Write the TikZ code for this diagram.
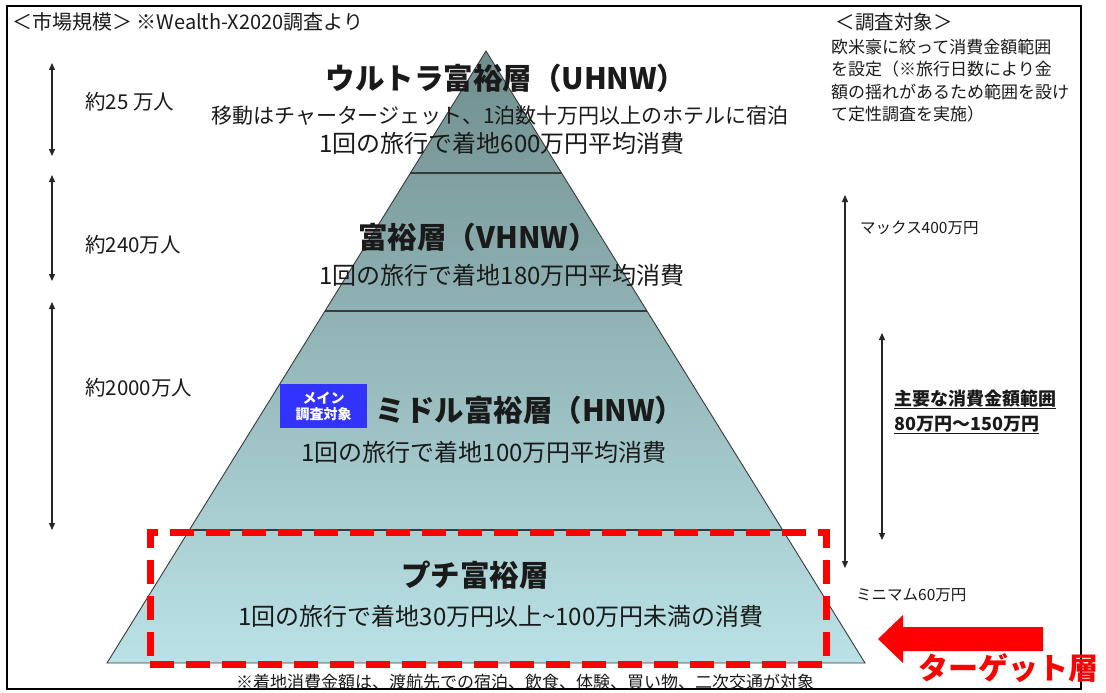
\documentclass[tikz,border=0pt]{standalone}
\usepackage{fontspec}
\setmainfont{Noto Sans CJK JP}
\usetikzlibrary{arrows.meta}
\definecolor{pyrtop}{HTML}{708E8E}
\definecolor{pyrbot}{HTML}{BAE2E6}
\definecolor{pyrline}{HTML}{3A3A3A}
\definecolor{txt}{HTML}{1A1A1A}
\definecolor{mainblue}{HTML}{3333FF}
\newcommand{\fs}[1]{\fontsize{#1}{#1}\selectfont}
\tikzset{
  lbl/.style={inner sep=0pt, text=txt},
  ttl/.style={lbl, font=\fs{29.5}\bfseries},
  sub/.style={lbl, font=\fs{24}},
  side/.style={lbl, font=\fs{20.5}, anchor=west},
  rside/.style={lbl, font=\fs{15.5}, anchor=west},
  dimarrow/.style={line width=1.3pt, draw=black!85, {Triangle[length=7pt,width=6pt]}-{Triangle[length=7pt,width=6pt]}},
  divider/.style={line width=1.2pt, draw=pyrline},
}
\begin{document}
\begin{tikzpicture}[x=1pt,y=-1pt]
\useasboundingbox (0,0) rectangle (1106,693);
\fill[white] (0,0) rectangle (1106,693);
% frame
\node[draw=black, line width=1.6pt, minimum width=1074pt, minimum height=683pt, inner sep=0pt] (frame) at (544,347.5) {};

% pyramid
\coordinate (apex) at (486,51);
\coordinate (bl) at (107,663);
\coordinate (br) at (865,663);
\shadedraw[top color=pyrtop, bottom color=pyrbot, draw=pyrline, line width=0.9pt] (apex) -- (br) -- (bl) -- cycle;
\coordinate (d1l) at (410.4,173); \coordinate (d1r) at (561.6,173);
\coordinate (d2l) at (325,311);   \coordinate (d2r) at (647,311);
\coordinate (d3l) at (189.4,530); \coordinate (d3r) at (782.6,530);
\draw[divider] (d1l) -- (d1r);
\draw[divider] (d2l) -- (d2r);
\draw[divider] (d3l) -- (d3r);

% headers
\node[lbl, font=\fs{20}, anchor=west] (hdrL) at (12,22) {＜市場規模＞ ※Wealth-X2020調査より};
\node[lbl, font=\fs{19.5}] (hdrR) at (894,22) {＜調査対象＞};
\node[lbl, font=\fontsize{17}{22.5}\selectfont, anchor=north west, align=left] (hdrRtxt) at (831,38.5)
  {欧米豪に絞って消費金額範囲\\を設定（※旅行日数により金\\額の揺れがあるため範囲を設け\\て定性調査を実施）};

% layer texts
\node[ttl] (uhnw) at (506,78) {ウルトラ富裕層（UHNW）};
\node[lbl, font=\fs{21}] (uhnw1) at (500,116) {移動はチャータージェット、1泊数十万円以上のホテルに宿泊};
\node[sub] (uhnw2) at (502,143) {1回の旅行で着地600万円平均消費};
\node[ttl] (vhnw) at (478,237) {富裕層（VHNW）};
\node[sub] (vhnw1) at (502,275) {1回の旅行で着地180万円平均消費};
\node[ttl] (hnw) at (530,410) {ミドル富裕層（HNW）};
\node[sub] (hnw1) at (484,452) {1回の旅行で着地100万円平均消費};
\node[fill=mainblue, text=white, font=\fontsize{14}{16}\selectfont\bfseries, align=center, inner sep=0pt, minimum width=87pt, minimum height=44pt] (mainbox) at (323.5,406) {メイン\\調査対象};
\node[ttl] (petit) at (475,575) {プチ富裕層};
\node[sub] (petit1) at (501,616) {1回の旅行で着地30万円以上\textasciitilde 100万円未満の消費};
\node[lbl, font=\fs{17}] (note) at (525,682) {※着地消費金額は、渡航先での宿泊、飲食、体験、買い物、二次交通が対象};

% left dimension arrows
\coordinate (a1t) at (52,63);  \coordinate (a1b) at (52,156);
\coordinate (a2t) at (52,175); \coordinate (a2b) at (52,281);
\coordinate (a3t) at (52,302); \coordinate (a3b) at (52,530);
\draw[dimarrow] (a1t) -- (a1b);
\draw[dimarrow] (a2t) -- (a2b);
\draw[dimarrow] (a3t) -- (a3b);
\node[side] (p1) at (85,102) {約25 万人};
\node[side] (p2) at (85,245) {約240万人};
\node[side] (p3) at (85,388) {約2000万人};

% right dimension arrows
\coordinate (r1t) at (845,195); \coordinate (r1b) at (845,568);
\coordinate (r2t) at (882,333); \coordinate (r2b) at (882,540);
\draw[dimarrow] (r1t) -- (r1b);
\draw[dimarrow] (r2t) -- (r2b);
\node[rside] (maxl) at (860,228) {マックス400万円};
\node[rside] (minl) at (856,595) {ミニマム60万円};
\node[lbl, font=\fontsize{18}{25}\selectfont\bfseries, anchor=west, align=left] (mainrange) at (894,412)
  {\underline{主要な消費金額範囲}\\\underline{80万円～150万円}};

% target highlight
\node[draw=red, line width=7pt, dash pattern=on 24pt off 12pt, minimum width=676pt, minimum height=132pt, inner sep=0pt] (target) at (488,598) {};
\fill[red] (1043,627) -- (903,627) -- (903,615) -- (878,639) -- (903,663) -- (903,651) -- (1043,651) -- cycle;
\node[lbl, text=red, font=\fs{30}\bfseries] (tlabel) at (1008,668) {ターゲット層};
\end{tikzpicture}
\end{document}
